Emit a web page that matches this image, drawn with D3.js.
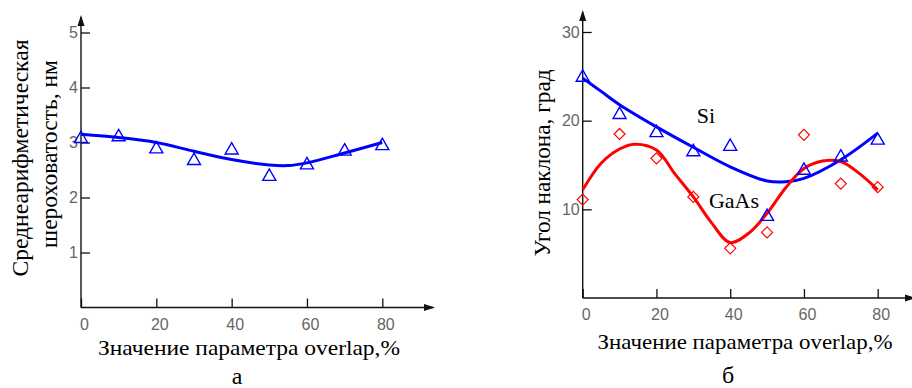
<!DOCTYPE html>
<html><head><meta charset="utf-8">
<script src="https://cdn.jsdelivr.net/npm/d3@7"></script>
<style>
html,body{margin:0;padding:0;background:#fff;}
svg{display:block;}
</style></head>
<body>
<svg id="chart" width="912" height="388"></svg>
<script>
// ---------- data ----------
const xTicks = [0, 20, 40, 60, 80];
const pointX = [0, 10, 20, 30, 40, 50, 60, 70, 80];

// panel a
const roughY = [3.09, 3.12, 2.90, 2.69, 2.88, 2.40, 2.61, 2.86, 2.96];
const roughFitX = [0, 10, 20, 30, 40, 50, 55, 60, 70, 80];
const roughFitY = [3.15, 3.09, 3.0, 2.84, 2.69, 2.59, 2.58, 2.63, 2.81, 3.0];
const yTicksA = [1, 2, 3, 4, 5];

// panel б
const siY = [25.0, 20.8, 18.75, 16.6, 17.2, 9.3, 14.5, 16.0, 17.9];
const gaasY = [11.1, 18.5, 15.75, 11.4, 5.6, 7.4, 18.4, 12.9, 12.5];
const siFitX = [0, 5, 10, 20, 30, 40, 50, 55, 60, 70, 80];
const siFitY = [24.8, 23.3, 21.8, 19.3, 17.0, 14.8, 13.2, 13.1, 13.5, 15.6, 18.6];
const gaasFitX = [0, 5, 10, 14, 20, 25, 30, 35, 40, 45, 50, 55, 60, 65, 70, 75, 80];
const gaasFitY = [12.2, 15.2, 16.8, 17.35, 16.7, 14.0, 11.4, 8.45, 6.25, 7.3, 9.55, 12.4, 14.6, 15.45, 15.4, 14.05, 12.2];
const yTicksB = [10, 20, 30];

const xLabel = "Значение параметра overlap,%";
const yLabelA1 = "Среднеарифметическая";
const yLabelA2 = "шероховатость, нм";
const yLabelB = "Угол наклона, град";

// ---------- drawing ----------
const svg = d3.select("#chart");
const BLUE = "#0000ff", RED = "#ff0000";
const SERIF = "'Liberation Serif','Times New Roman',serif";
const SANS = "'Liberation Sans',Arial,sans-serif";

function triangle(g, x, y, color) {
  const s = 6.5;
  g.append("path")
    .attr("d", `M${x},${y - s} L${x + s},${y + s * 0.75} L${x - s},${y + s * 0.75} Z`)
    .attr("fill", "none").attr("stroke", color).attr("stroke-width", 1.4);
}
function diamond(g, x, y, color) {
  const s = 5.5;
  g.append("path")
    .attr("d", `M${x},${y - s} L${x + s},${y} L${x},${y + s} L${x - s},${y} Z`)
    .attr("fill", "none").attr("stroke", color).attr("stroke-width", 1.2);
}

function panel(opts) {
  const g = svg.append("g");
  const x = d3.scaleLinear().domain([0, 80]).range(opts.xRange);
  const y = d3.scaleLinear().domain(opts.yDomain).range(opts.yRange);
  const x0 = x(0), y0 = y(0);

  // axes lines with arrows
  g.append("line").attr("x1", x0).attr("y1", y0).attr("x2", opts.xEnd).attr("y2", y0)
    .attr("stroke", "#111").attr("stroke-width", 1.4);
  g.append("line").attr("x1", x0).attr("y1", y0).attr("x2", x0).attr("y2", opts.yEnd)
    .attr("stroke", "#111").attr("stroke-width", 1.4);
  g.append("path").attr("d", `M${x0},${opts.yEnd - 2} L${x0 - 3.5},${opts.yEnd + 9} L${x0 + 3.5},${opts.yEnd + 9} Z`).attr("fill", "#111");
  g.append("path").attr("d", `M${opts.xEnd + 2},${y0} L${opts.xEnd - 9},${y0 - 3.5} L${opts.xEnd - 9},${y0 + 3.5} Z`).attr("fill", "#111");

  // x axis ticks
  const ax = g.append("g").attr("transform", `translate(0,${y0})`)
    .call(d3.axisBottom(x).tickValues(xTicks).tickFormat(d3.format("d")).tickSizeInner(-9).tickSizeOuter(0).tickPadding(8));
  ax.select(".domain").remove();
  ax.selectAll("line").attr("stroke", "#111").attr("stroke-width", 1.3);
  ax.selectAll("text").attr("font-family", SANS).attr("font-size", 16).attr("fill", "#666")
    .attr("dx", 3).attr("dy", "0.9em");

  // y axis ticks
  const ay = g.append("g").attr("transform", `translate(${x0},0)`)
    .call(d3.axisLeft(y).tickValues(opts.yTicks).tickFormat(d3.format("d")).tickSizeInner(-9).tickSizeOuter(0).tickPadding(3));
  ay.select(".domain").remove();
  ay.selectAll("line").attr("stroke", "#111").attr("stroke-width", 1.3);
  ay.selectAll("text").attr("font-family", SANS).attr("font-size", 16).attr("fill", "#666");

  return { g, x, y };
}

const line = (sx, sy) => d3.line().x(d => sx(d[0])).y(d => sy(d[1])).curve(d3.curveCatmullRom.alpha(0.5));

// ----- panel a -----
{
  const { g, x, y } = panel({ xRange: [81, 382.3], yDomain: [0, 5], yRange: [307.5, 32.5], xEnd: 433, yEnd: 17, yTicks: yTicksA });
  g.append("path").datum(roughFitX.map((d, i) => [d, roughFitY[i]]))
    .attr("d", line(x, y)).attr("fill", "none").attr("stroke", BLUE).attr("stroke-width", 3);
  pointX.forEach((d, i) => triangle(g, x(d), y(roughY[i]), BLUE));

  g.append("text").attr("x", 249).attr("y", 347).attr("dominant-baseline", "central")
    .attr("text-anchor", "middle").attr("font-family", SERIF).attr("font-size", 22)
    .attr("textLength", 302).attr("lengthAdjust", "spacingAndGlyphs").text(xLabel);
  g.append("text").attr("transform", "translate(20,158) rotate(-90)").attr("dominant-baseline", "central")
    .attr("text-anchor", "middle").attr("font-family", SERIF).attr("font-size", 23)
    .attr("textLength", 237).attr("lengthAdjust", "spacingAndGlyphs").text(yLabelA1);
  g.append("text").attr("transform", "translate(49,154) rotate(-90)").attr("dominant-baseline", "central")
    .attr("text-anchor", "middle").attr("font-family", SERIF).attr("font-size", 23)
    .attr("textLength", 188).attr("lengthAdjust", "spacingAndGlyphs").text(yLabelA2);
  g.append("text").attr("x", 237).attr("y", 376).attr("dominant-baseline", "central")
    .attr("text-anchor", "middle").attr("font-family", SERIF).attr("font-size", 24).text("а");
}

// ----- panel б -----
{
  const { g, x, y } = panel({ xRange: [582.7, 877.7], yDomain: [0, 30], yRange: [298, 32], xEnd: 914, yEnd: 12, yTicks: yTicksB });
  g.append("path").datum(siFitX.map((d, i) => [d, siFitY[i]]))
    .attr("d", line(x, y)).attr("fill", "none").attr("stroke", BLUE).attr("stroke-width", 3);
  g.append("path").datum(gaasFitX.map((d, i) => [d, gaasFitY[i]]))
    .attr("d", line(x, y)).attr("fill", "none").attr("stroke", RED).attr("stroke-width", 3);
  pointX.forEach((d, i) => diamond(g, x(d), y(gaasY[i]), RED));
  pointX.forEach((d, i) => triangle(g, x(d), y(siY[i]), BLUE));

  g.append("text").attr("x", 706).attr("y", 115).attr("dominant-baseline", "central")
    .attr("text-anchor", "middle").attr("font-family", SERIF).attr("font-size", 22).text("Si");
  g.append("text").attr("x", 734).attr("y", 200).attr("dominant-baseline", "central")
    .attr("text-anchor", "middle").attr("font-family", SERIF).attr("font-size", 22).text("GaAs");

  g.append("text").attr("x", 745).attr("y", 341.5).attr("dominant-baseline", "central")
    .attr("text-anchor", "middle").attr("font-family", SERIF).attr("font-size", 22)
    .attr("textLength", 295).attr("lengthAdjust", "spacingAndGlyphs").text(xLabel);
  g.append("text").attr("transform", "translate(542,163) rotate(-90)").attr("dominant-baseline", "central")
    .attr("text-anchor", "middle").attr("font-family", SERIF).attr("font-size", 23)
    .attr("textLength", 187).attr("lengthAdjust", "spacingAndGlyphs").text(yLabelB);
  g.append("text").attr("x", 728).attr("y", 375).attr("dominant-baseline", "central")
    .attr("text-anchor", "middle").attr("font-family", SERIF).attr("font-size", 24).text("б");
}
</script>
</body></html>
